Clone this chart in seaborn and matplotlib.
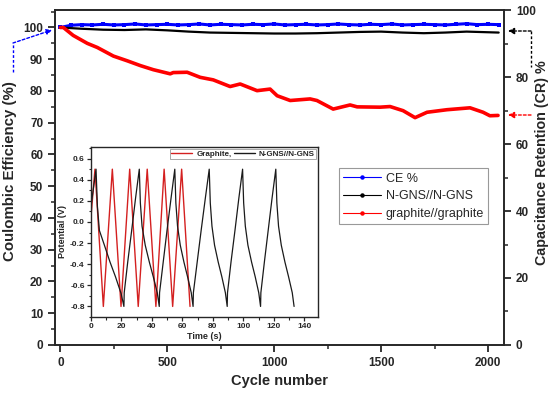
import numpy as np
import pandas as pd
import matplotlib
matplotlib.use("Agg")
import matplotlib.pyplot as plt
from matplotlib.lines import Line2D
from matplotlib.ticker import MultipleLocator
import seaborn as sns

# ---------------- data ----------------
ce_cycle = [0, 50, 100, 150, 200, 250, 300, 350, 400, 450, 500, 550, 600, 650, 700,
            750, 800, 850, 900, 950, 1000, 1050, 1100, 1150, 1200, 1250, 1300, 1350,
            1400, 1450, 1500, 1550, 1600, 1650, 1700, 1750, 1800, 1850, 1900, 1950,
            2000, 2050]
ce_value = [100.0, 100.7, 100.9, 100.8, 101.0, 100.8, 100.9, 101.1, 100.8, 100.9,
            101.0, 100.8, 100.9, 101.1, 100.8, 101.0, 100.9, 100.8, 101.0, 100.9,
            101.1, 100.8, 100.9, 101.0, 100.8, 100.9, 101.1, 100.9, 100.8, 101.0,
            100.9, 101.1, 100.8, 100.9, 101.0, 100.9, 100.8, 101.0, 101.2, 100.9,
            101.0, 100.9]

ngns_cycle = [0, 100, 200, 300, 400, 500, 600, 700, 800, 900, 1000, 1100, 1200,
              1300, 1400, 1500, 1600, 1700, 1800, 1900, 2000, 2050]
ngns_value = [100.0, 99.6, 99.3, 99.2, 99.4, 99.1, 98.7, 98.4, 98.3, 98.2, 98.1,
              98.1, 98.2, 98.4, 98.6, 98.7, 98.4, 98.2, 98.4, 98.7, 98.5, 98.4]

graph_cycle = [0, 14, 60, 126, 173, 248, 313, 374, 435, 514, 528, 593, 654, 715,
               794, 841, 920, 981, 1014, 1075, 1168, 1200, 1276, 1355, 1388, 1495,
               1542, 1603, 1659, 1715, 1808, 1916, 1977, 2009, 2047]
graph_value = [100.0, 100.0, 97.5, 95.0, 93.7, 91.0, 89.5, 88.0, 86.7, 85.4, 85.8,
               85.9, 84.3, 83.5, 81.4, 82.2, 80.1, 80.6, 78.5, 77.0, 77.5, 77.0, 74.3,
               75.6, 75.0, 74.9, 75.1, 73.8, 71.6, 73.3, 74.1, 74.7, 73.3, 72.2, 72.3]

# inset: galvanostatic charge/discharge
red_t = [0, 2.6, 8.1, 14.0, 19.7, 25.4, 31.0, 36.9, 42.6, 48.0, 53.6, 59.5, 65.0]
red_v = [0.05, 0.5, -0.8, 0.5, -0.8, 0.5, -0.8, 0.5, -0.8, 0.5, -0.8, 0.5, -0.8]

blk_t = [0, 3.3, 4.2, 5.5, 8.8, 12.5, 16.1, 19.8, 21.6,
         21.8, 24.1, 26.7, 29.2, 31.7,
         32.4, 33.5, 35.6, 38.3, 40.9, 43.5, 44.8,
         45.0, 47.4, 49.9, 52.5, 55.0,
         55.7, 56.8, 58.6, 61.0, 63.4, 65.8, 67.0,
         67.2, 69.7, 72.3, 75.0, 77.6,
         78.3, 79.4, 81.1, 83.5, 85.9, 88.2, 89.4,
         89.6, 91.9, 94.5, 97.0, 99.5,
         100.2, 101.3, 103.0, 105.4, 107.8, 110.1, 111.3,
         111.5, 113.8, 116.3, 118.8, 121.3,
         122.0, 123.1, 124.9, 127.3, 129.7, 132.1, 133.3]
blk_v = [0.15, 0.5, 0.15, -0.08, -0.22, -0.38, -0.52, -0.68, -0.8,
         -0.67, -0.38, -0.08, 0.22, 0.5,
         0.18, -0.04, -0.22, -0.38, -0.52, -0.67, -0.8,
         -0.67, -0.38, -0.08, 0.22, 0.5,
         0.18, -0.04, -0.22, -0.38, -0.52, -0.67, -0.8,
         -0.67, -0.38, -0.08, 0.22, 0.5,
         0.18, -0.04, -0.22, -0.38, -0.52, -0.67, -0.8,
         -0.67, -0.38, -0.08, 0.22, 0.5,
         0.18, -0.04, -0.22, -0.38, -0.52, -0.67, -0.8,
         -0.67, -0.38, -0.08, 0.22, 0.5,
         0.18, -0.04, -0.22, -0.38, -0.52, -0.67, -0.8]

legend_labels = ["CE %", "N-GNS//N-GNS", "graphite//graphite"]
inset_labels = ["Graphite,", "N-GNS//N-GNS"]

# ---------------- style ----------------
sns.set_style("ticks")
plt.rcParams['font.family'] = ['Liberation Sans', 'DejaVu Sans']
plt.rcParams['axes.linewidth'] = 1.2

BLUE = "#0000ff"
RED = "#ff0000"
BLACK = "#000000"

fig = plt.figure(figsize=(5.5, 3.96), dpi=100)
ax = fig.add_axes([0.1, 0.1288, 0.8164, 0.8459])

sns.lineplot(x=ce_cycle, y=ce_value, ax=ax, color=BLUE, lw=2.2, marker='s',
             markersize=2.5, markeredgewidth=0, estimator=None, sort=False)
sns.lineplot(x=ngns_cycle, y=ngns_value, ax=ax, color=BLACK, lw=1.6,
             estimator=None, sort=False)
sns.lineplot(x=graph_cycle, y=graph_value, ax=ax, color=RED, lw=2.6,
             estimator=None, sort=False)

ax.set_xlim(-25, 2075)
ax.set_ylim(0, 105.5)
ax.set_xticks([0, 500, 1000, 1500, 2000])
ax.xaxis.set_minor_locator(MultipleLocator(250))
ax.set_yticks(range(0, 101, 10))
ax.yaxis.set_minor_locator(MultipleLocator(5))
ax.tick_params(axis='both', which='major', direction='out', length=5, width=1.3,
               labelsize=8.5)
ax.tick_params(axis='both', which='minor', direction='out', length=3, width=1.1)
for lab in ax.get_xticklabels() + ax.get_yticklabels():
    lab.set_fontweight('bold')
ax.set_xlabel("Cycle number", fontsize=10.5, fontweight='bold', labelpad=4)
ax.set_ylabel("Coulombic Efficiency (%)", fontsize=10.8, fontweight='bold')
ax.yaxis.set_label_coords(-0.084, 0.52)
for s in ['top', 'right']:
    ax.spines[s].set_visible(True)

ax2 = ax.twinx()
ax2.set_ylim(0, 100)
ax2.set_yticks(range(0, 101, 20))
ax2.yaxis.set_minor_locator(MultipleLocator(10))
ax2.tick_params(axis='y', which='major', direction='out', length=5, width=1.3,
                labelsize=8.5)
ax2.tick_params(axis='y', which='minor', direction='out', length=3, width=1.1)
for lab in ax2.get_yticklabels():
    lab.set_fontweight('bold')
ax2.set_ylabel("Capacitance Retention (CR) %", fontsize=10.3, fontweight='bold')
ax2.yaxis.set_label_coords(1.07, 0.545)

handles = [Line2D([], [], color=BLUE, lw=0.8, marker='o', ms=2.2),
           Line2D([], [], color=BLACK, lw=0.8, marker='o', ms=2.2),
           Line2D([], [], color=RED, lw=0.8, marker='o', ms=2.2)]
leg = ax2.legend(handles, legend_labels, loc='upper left',
                 bbox_to_anchor=(0.618, 0.546), fontsize=9, frameon=True,
                 fancybox=False, edgecolor='#808080', handlelength=3.0,
                 labelspacing=0.45, borderpad=0.35, handletextpad=0.4,
                 numpoints=1)
leg.get_frame().set_linewidth(0.8)

# arrows
fig.add_artist(Line2D([13/550, 13/550], [1-72/396, 1-43/396],
                      transform=fig.transFigure, color=BLUE, lw=1, ls=(0, (2, 1.5))))
ax.annotate("", xy=(52/550, 1-30/396), xycoords='figure fraction',
            xytext=(13/550, 1-43/396), textcoords='figure fraction',
            arrowprops=dict(arrowstyle='-|>', color=BLUE, lw=1,
                            ls=(0, (2, 1.5)), mutation_scale=8, shrinkA=0, shrinkB=0),
            annotation_clip=False)
fig.add_artist(Line2D([531/550, 531/550], [1-31/396, 1-67/396],
                      transform=fig.transFigure, color=BLACK, lw=1, ls=(0, (2, 1.5))))
ax2.annotate("", xy=(508/550, 1-31/396), xycoords='figure fraction',
             xytext=(531/550, 1-31/396), textcoords='figure fraction',
             arrowprops=dict(arrowstyle='-|>', color=BLACK, lw=1,
                             ls=(0, (2, 1.5)), mutation_scale=9, shrinkA=0, shrinkB=0),
             annotation_clip=False)
ax2.annotate("", xy=(508/550, 1-115/396), xycoords='figure fraction',
             xytext=(531/550, 1-115/396), textcoords='figure fraction',
             arrowprops=dict(arrowstyle='-|>', color=RED, lw=1,
                             ls=(0, (2, 1.5)), mutation_scale=9, shrinkA=0, shrinkB=0),
             annotation_clip=False)

# ---------------- inset ----------------
ins = fig.add_axes([91/550, 1-317/396, 227/550, 170/396])
sns.lineplot(x=red_t, y=red_v, ax=ins, color="#d42020", lw=1.0,
             estimator=None, sort=False)
sns.lineplot(x=blk_t, y=blk_v, ax=ins, color="#1a1a1a", lw=0.9,
             estimator=None, sort=False)
ins.set_xlim(0, 149)
ins.set_ylim(-0.9, 0.71)
ins.set_xticks(range(0, 141, 20))
ins.xaxis.set_minor_locator(MultipleLocator(10))
ins.set_yticks([-0.8, -0.6, -0.4, -0.2, 0.0, 0.2, 0.4, 0.6])
ins.yaxis.set_minor_locator(MultipleLocator(0.1))
ins.tick_params(axis='both', which='major', direction='out', length=3, width=0.9,
                labelsize=6, pad=1.5)
ins.tick_params(axis='both', which='minor', direction='out', length=1.8, width=0.8)
ins.set_yticklabels(["-0.8", "-0.6", "-0.4", "-0.2", "0.0", "0.2", "0.4", "0.6"])
for lab in ins.get_xticklabels() + ins.get_yticklabels():
    lab.set_fontweight('bold')
for s in ins.spines.values():
    s.set_visible(True)
    s.set_linewidth(1.0)
ins.set_xlabel("Time (s)", fontsize=6.5, fontweight='bold', labelpad=1)
ins.set_ylabel("Potential (V)", fontsize=6.5, fontweight='bold', labelpad=2)
ih = [Line2D([], [], color="#d42020", lw=1.0), Line2D([], [], color="#1a1a1a", lw=1.0)]
il = ins.legend(ih, inset_labels, loc='upper right', ncol=2,
                frameon=True, fancybox=False, edgecolor='#808080',
                handlelength=2.6, columnspacing=0.3, handletextpad=0.5,
                borderpad=0.2, borderaxespad=0.2, prop={'weight': 'bold', 'size': 5.8})
il.get_frame().set_linewidth(0.6)

fig.savefig("out.png", dpi=100)
